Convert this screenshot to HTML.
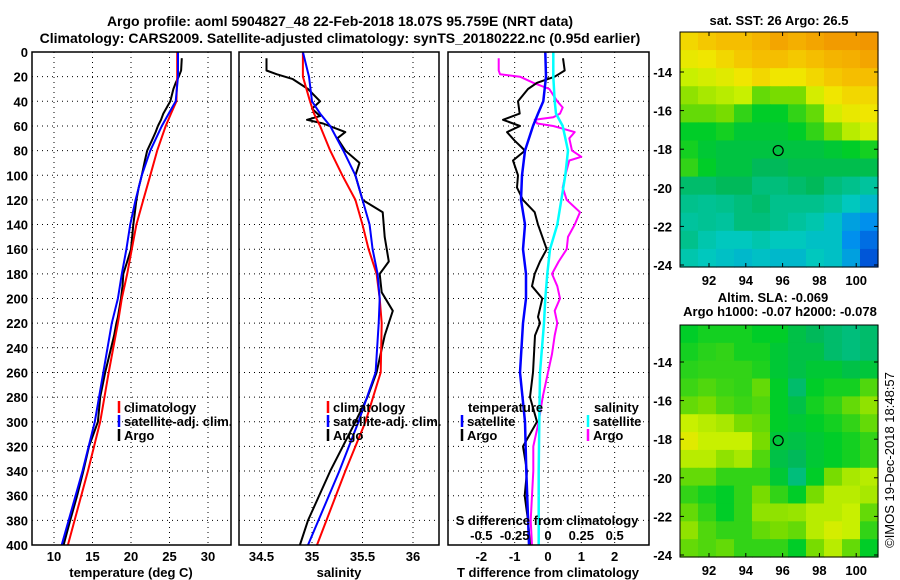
<!DOCTYPE html>
<html><head><meta charset="utf-8"><style>
body{margin:0;background:#fff;}
svg{display:block;font-family:"Liberation Sans",sans-serif;font-weight:bold;}
</style></head><body>
<svg id="c" width="900" height="580" viewBox="0 0 900 580"></svg>
<script>
const smoothDepth=[0,20,40,50,60,80,100,120,140,160,180,200,220,260,300,340,400];
const tempClim=[26.0,26.0,25.9,25.2,24.5,23.4,22.5,21.6,20.7,20.1,19.5,18.8,18.3,17.1,16.0,14.4,11.8];
const tempSat=[26.1,26.1,25.8,24.9,24.0,22.5,21.4,20.6,19.9,19.4,18.8,18.3,17.5,16.4,15.3,13.7,11.0];
const salClim=[34.91,34.91,34.98,35.02,35.08,35.18,35.30,35.43,35.50,35.56,35.64,35.67,35.69,35.68,35.53,35.33,35.05];
const salSat=[34.91,34.97,35.0,35.08,35.18,35.31,35.43,35.50,35.57,35.60,35.65,35.67,35.66,35.63,35.46,35.27,34.96];
const dTSat=[-0.08,-0.06,-0.14,-0.3,-0.45,-0.69,-0.78,-0.81,-0.69,-0.75,-0.66,-0.66,-0.75,-0.84,-0.69,-0.65,-0.57];
const dSSat=[0.04,0.04,0.05,0.06,0.11,0.15,0.13,0.10,0.07,0.015,-0.005,-0.02,-0.03,-0.06,-0.065,-0.07,-0.07];
const argoTDepth=[5,15,20,25,30,40,50,55,60,65,72,80,88,100,110,120,130,140,160,170,180,190,200,215,220,230,260,280,300,320,340,360,380,400];
const argoTemp=[26.6,26.5,26.2,25.8,25.5,25.1,24.2,23.9,23.5,23.2,22.7,22.1,21.8,21.4,21.0,20.7,20.5,20.3,20.0,19.5,19.0,18.9,18.7,18.3,18.1,17.8,16.65,16.0,15.7,14.55,13.8,13.0,12.1,11.25];
const argoDT=[0.45,0.5,0.2,-0.33,-0.6,-0.9,-0.85,-1.35,-0.84,-1.23,-1.0,-0.69,-1.05,-0.9,-0.93,-0.75,-0.4,-0.3,-0.04,-0.24,-0.4,-0.48,-0.17,-0.3,-0.24,-0.39,-0.45,-0.54,-0.33,-0.75,-0.63,-0.7,-0.6,-0.54];
const argoSDepth=[5,15,18,22,30,40,46,52,55,58,65,70,80,90,100,120,130,150,170,180,195,210,230,260,280,300,340,380,400];
const argoSal=[34.55,34.55,34.65,34.81,34.96,35.08,35.0,35.08,34.95,35.11,35.33,35.25,35.33,35.47,35.43,35.5,35.7,35.72,35.76,35.67,35.69,35.80,35.72,35.64,35.55,35.43,35.18,34.96,34.88];
const argoDSDepth=[5,15,18,20,25,30,40,45,50,53,55,58,60,65,70,80,85,88,100,110,120,130,140,150,160,170,180,190,200,210,220,230,245,260,280,300,320,340,360,380,400];
const argoDS=[-0.37,-0.37,-0.36,-0.21,-0.11,0.01,0.07,0.11,0.09,0.04,-0.1,-0.08,0.04,0.2,0.16,0.18,0.25,0.16,0.13,0.11,0.14,0.24,0.2,0.15,0.14,0.08,0.03,0.07,0.09,0.05,0.07,0.05,0.03,0,-0.04,-0.07,-0.11,-0.11,-0.12,-0.13,-0.12];
const depthTicks=[0,20,40,60,80,100,120,140,160,180,200,220,240,260,280,300,320,340,360,380,400];
const tempTicks=[10,15,20,25,30];
const salTicks=[34.5,35,35.5,36];
const dTTicks=[-2,-1,0,1,2];
const dSTicks=[-0.5,-0.25,0,0.25,0.5];
const latTicks=[-14,-16,-18,-20,-22,-24];
const lonTicks=[92,94,96,98,100];
const sstGrid=[
[0.85,0.88,0.9,0.9,0.92,0.95,0.93,0.95,0.97,0.97,0.98],
[0.8,0.82,0.85,0.88,0.9,0.9,0.88,0.9,0.92,0.93,0.95],
[0.72,0.75,0.78,0.82,0.85,0.82,0.82,0.85,0.88,0.9,0.9],
[0.65,0.68,0.7,0.72,0.6,0.62,0.62,0.75,0.82,0.85,0.85],
[0.6,0.6,0.62,0.55,0.5,0.5,0.55,0.6,0.75,0.8,0.82],
[0.5,0.5,0.52,0.48,0.48,0.48,0.5,0.55,0.62,0.7,0.75],
[0.52,0.48,0.46,0.46,0.46,0.46,0.46,0.46,0.48,0.5,0.52],
[0.55,0.5,0.46,0.46,0.42,0.42,0.44,0.44,0.44,0.44,0.44],
[0.4,0.4,0.42,0.42,0.38,0.38,0.4,0.42,0.38,0.36,0.34],
[0.36,0.35,0.36,0.38,0.4,0.36,0.36,0.36,0.34,0.3,0.26],
[0.34,0.35,0.34,0.38,0.38,0.36,0.34,0.32,0.28,0.2,0.16],
[0.36,0.32,0.3,0.3,0.32,0.3,0.3,0.28,0.28,0.16,0.1],
[0.32,0.3,0.28,0.26,0.28,0.26,0.26,0.3,0.28,0.2,0.06]];
const slaGrid=[
[0.5,0.52,0.52,0.52,0.5,0.5,0.45,0.42,0.4,0.38,0.4],
[0.52,0.54,0.55,0.52,0.52,0.48,0.45,0.45,0.4,0.38,0.4],
[0.54,0.55,0.55,0.55,0.53,0.48,0.45,0.48,0.48,0.45,0.47],
[0.56,0.58,0.56,0.55,0.6,0.5,0.4,0.5,0.52,0.52,0.58],
[0.6,0.62,0.58,0.56,0.58,0.5,0.45,0.52,0.55,0.6,0.65],
[0.72,0.7,0.68,0.62,0.6,0.5,0.48,0.5,0.52,0.55,0.6],
[0.78,0.72,0.72,0.72,0.62,0.47,0.45,0.48,0.5,0.52,0.55],
[0.7,0.7,0.65,0.68,0.58,0.45,0.42,0.48,0.5,0.52,0.55],
[0.6,0.6,0.55,0.55,0.55,0.48,0.38,0.5,0.62,0.68,0.7],
[0.55,0.52,0.5,0.55,0.62,0.55,0.5,0.62,0.7,0.7,0.68],
[0.6,0.55,0.5,0.55,0.65,0.65,0.66,0.7,0.7,0.72,0.6],
[0.65,0.58,0.55,0.55,0.6,0.62,0.6,0.7,0.75,0.72,0.55],
[0.6,0.58,0.6,0.55,0.55,0.55,0.5,0.62,0.7,0.6,0.5]];
const argoLon=[95.759];
const argoLat=[-18.07];

const NS="http://www.w3.org/2000/svg";
const svg=document.getElementById('c');
function mk(tag,attrs,parent){const e=document.createElementNS(NS,tag);for(const k in attrs)e.setAttribute(k,attrs[k]);(parent||svg).appendChild(e);return e;}
function txt(x,y,s,size,anchor,parent){const t=mk('text',{x:x,y:y,'font-size':size,'text-anchor':anchor||'middle',fill:'#000'},parent);t.textContent=s;return t;}

const TOP=52,BOT=545;
const yD=d=>TOP+(BOT-TOP)*d/400;
const xT=v=>54+(v-10)*7.7;
const xS=v=>312+(v-35)*101;
const xdT=v=>548+v*33.33;
const xdS=v=>548+v*133.3;
const panels=[[32,231],[239,439],[448,649]];

// titles
let t=txt(340,26,"Argo profile: aoml 5904827_48 22-Feb-2018 18.07S 95.759E (NRT data)",14);

t=txt(340,43,"Climatology: CARS2009. Satellite-adjusted climatology: synTS_20180222.nc (0.95d earlier)",14);


// panel grids
function grid(px,xs){
  const g=mk('g',{});
  for(const d of depthTicks){const y=yD(d);mk('line',{x1:px[0],x2:px[1],y1:y,y2:y,stroke:'#000','stroke-width':1,'stroke-dasharray':'1,4'},g);}
  for(const x of xs){mk('line',{x1:x,x2:x,y1:TOP,y2:BOT,stroke:'#000','stroke-width':1,'stroke-dasharray':'1,4'},g);}
  return g;
}
let g=grid(panels[0],tempTicks.map(xT));
g=grid(panels[1],salTicks.map(xS));
g=grid(panels[2],dTTicks.map(xdT));

function line(ds,vs,fx,color,w,name){
  const pts=ds.map((d,i)=>fx(vs[i]).toFixed(1)+','+yD(d).toFixed(1)).join(' ');
  const p=mk('polyline',{points:pts,fill:'none',stroke:color,'stroke-width':w,'stroke-linejoin':'round'});
  
  
}
line(argoTDepth,argoTemp,xT,'#000',2,'argo-temperature-line');
line(smoothDepth,tempClim,xT,'#f00',2,'climatology-temperature-line');
line(smoothDepth,tempSat,xT,'#00f',2,'satellite-temperature-line');
line(argoSDepth,argoSal,xS,'#000',2,'argo-salinity-line');
line(smoothDepth,salClim,xS,'#f00',2,'climatology-salinity-line');
line(smoothDepth,salSat,xS,'#00f',2,'satellite-salinity-line');
line(argoDSDepth,argoDS,xdS,'#f0f',2,'argo-salinity-diff-line');
line(argoTDepth,argoDT,xdT,'#000',2,'argo-temperature-diff-line');
line(smoothDepth,dSSat,xdS,'#0ff',2.5,'satellite-salinity-diff-line');
line(smoothDepth,dTSat,xdT,'#00f',2.5,'satellite-temperature-diff-line');

// frames
panels.forEach((p,i)=>{const r=mk('rect',{x:p[0],y:TOP,width:p[1]-p[0],height:BOT-TOP,fill:'none',stroke:'#000','stroke-width':1.5});
});

// y ticks
for(const d of depthTicks){const e=txt(28,yD(d)+5,String(d),13,'end');}
for(const v of tempTicks){const e=txt(xT(v),561,String(v),13);}
for(const v of salTicks){const e=txt(xS(v),561,String(v),13);}
for(const v of dTTicks){const e=txt(xdT(v),561,String(v),13);}
for(const v of dSTicks){const e=txt(xdS(v),540,String(v),13);}
t=txt(131,577,"temperature (deg C)",13);
t=txt(339,577,"salinity",13);
t=txt(548,577,"T difference from climatology",13);
t=txt(547,525,"S difference from climatology",13);

// legends
function legend(x,y,color,label,name){
  const g=mk('g',{});
  
  
  mk('line',{x1:x,x2:x,y1:y-11,y2:y+1,stroke:color,'stroke-width':2.5},g);
  txt(x+5,y,label,13,'start',g);
}
legend(119,412,'#f00','climatology','legend-temp-climatology');
legend(119,426,'#00f','satellite-adj. clim.','legend-temp-satellite');
legend(119,440,'#000','Argo','legend-temp-argo');
legend(328,412,'#f00','climatology','legend-sal-climatology');
legend(328,426,'#00f','satellite-adj. clim.','legend-sal-satellite');
legend(328,440,'#000','Argo','legend-sal-argo');
t=txt(468,412,'temperature',13,'start');
legend(462,426,'#00f','satellite','legend-diff-temp-satellite');
legend(462,440,'#000','Argo','legend-diff-temp-argo');
t=txt(594,412,'salinity',13,'start');
legend(588,426,'#0ff','satellite','legend-diff-sal-satellite');
legend(588,440,'#f0f','Argo','legend-diff-sal-argo');

// colour map
const stops=[[0,[0,50,200]],[0.15,[0,140,240]],[0.3,[0,200,190]],[0.42,[0,185,90]],[0.5,[0,205,40]],[0.62,[120,220,0]],[0.72,[200,240,0]],[0.82,[240,230,0]],[0.9,[245,190,0]],[1,[240,140,0]]];
function cmap(v){v=Math.max(0,Math.min(1,v));for(let i=1;i<stops.length;i++){if(v<=stops[i][0]){const a=stops[i-1],b=stops[i],f=(v-a[0])/(b[0]-a[0]);const c=a[1].map((x,k)=>Math.round(x+(b[1][k]-x)*f));return 'rgb('+c.join(',')+')';}}return 'rgb(240,140,0)';}

const MX0=680,MX1=878;
const xLon=l=>709+(l-92)*18.4;
function drawMap(grid,y0,y1,latTopTickY,name){
  const yLat=la=>latTopTickY+(-14-la)*19.3;
  const g=mk('g',{});
  
  
  const rows=grid.length,cols=grid[0].length,cw=(MX1-MX0)/cols,ch=(y1-y0)/rows;
  grid.forEach((row,r)=>row.forEach((v,c)=>{
    const cell=mk('rect',{x:(MX0+c*cw).toFixed(2),y:(y0+r*ch).toFixed(2),width:(cw+0.6).toFixed(2),height:(ch+0.6).toFixed(2),fill:cmap(v)},g);
    
    
  }));
  mk('rect',{x:MX0,y:y0,width:MX1-MX0,height:y1-y0,fill:'none',stroke:'#000','stroke-width':1},g);
  for(const la of latTicks){const y=yLat(la);mk('line',{x1:MX0,x2:MX0+4,y1:y,y2:y,stroke:'#000'},g);mk('line',{x1:MX1-4,x2:MX1,y1:y,y2:y,stroke:'#000'},g);
    const e=txt(672,y+5,String(la),13,'end',g);}
  for(const lo of lonTicks){const x=xLon(lo);mk('line',{x1:x,x2:x,y1:y1-4,y2:y1,stroke:'#000'},g);mk('line',{x1:x,x2:x,y1:y0,y2:y0+4,stroke:'#000'},g);
    const e=txt(x,y1+18,String(lo),13,'middle',g);}
  const m=mk('circle',{cx:xLon(argoLon[0]),cy:yLat(argoLat[0]),r:5,fill:'none',stroke:'#000','stroke-width':1.2},g);
  
}
drawMap(sstGrid,32,267,72,'sst-map');
drawMap(slaGrid,325,557,362,'sla-map');
t=txt(779,25,"sat. SST: 26 Argo: 26.5",13);
t=txt(773,302,"Altim. SLA: -0.069",13);
t=txt(780,316,"Argo h1000: -0.07 h2000: -0.078",13);
t=txt(0,0,"©IMOS 19-Dec-2018 18:48:57",13);t.setAttribute('transform','translate(894,460) rotate(-90)');t.setAttribute('font-weight','normal');

</script>
</body></html>
